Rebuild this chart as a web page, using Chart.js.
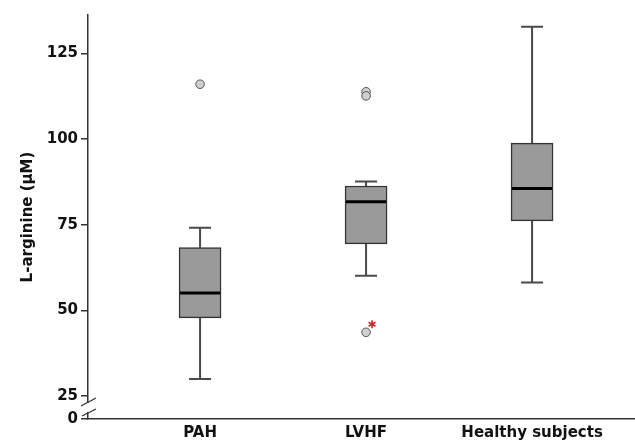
<!DOCTYPE html>
<html>
<head>
<meta charset="utf-8">
<script src="https://cdn.jsdelivr.net/npm/chart.js@4.4.0/dist/chart.umd.min.js"></script>
<style>
html, body { margin: 0; padding: 0; background: #fff; overflow: hidden; }
canvas { display: block; }
</style>
</head>
<body>
<canvas id="chart" width="635" height="440"></canvas>
<script>
// box plot values (µM)
const groups = ["PAH", "LVHF", "Healthy subjects"];
const whiskerLow = [30.0, 60.1, 58.1];
const q1 = [47.8, 69.4, 76.1];
const median = [55.1, 81.7, 85.6];
const q3 = [68.3, 86.3, 98.8];
const whiskerHigh = [74.1, 87.6, 132.8];
const outliers = [[116.0], [113.8, 112.6, 43.6], []];
const flagged = [[], [43.6], []];   // red asterisk
const yTicks = [25, 50, 75, 100, 125];
const yMin = 18.3, yMax = 136.2;   // axis is broken below 25, bottom labelled 0

const font = { family: "DejaVu Sans", weight: "bold", size: 15 };
const ink = "#111";

// whiskers go under the boxes, medians and asterisk on top
const boxParts = {
    id: "boxParts",
    beforeDatasetsDraw(chart) {
        const { ctx, scales: { x, y } } = chart;
        ctx.save();
        ctx.strokeStyle = "#4a4a4a";
        ctx.lineWidth = 2;
        groups.forEach((g, i) => {
            const cx = x.getPixelForValue(i + 1);
            const hi = y.getPixelForValue(whiskerHigh[i]);
            const lo = y.getPixelForValue(whiskerLow[i]);
            ctx.beginPath();
            ctx.moveTo(cx, y.getPixelForValue(q3[i]));
            ctx.lineTo(cx, hi);
            ctx.moveTo(cx, y.getPixelForValue(q1[i]));
            ctx.lineTo(cx, lo);
            ctx.moveTo(cx - 11, hi);
            ctx.lineTo(cx + 11, hi);
            ctx.moveTo(cx - 11, lo);
            ctx.lineTo(cx + 11, lo);
            ctx.stroke();
        });
        ctx.restore();
    },
    afterDatasetsDraw(chart) {
        const { ctx, scales: { x, y } } = chart;
        ctx.save();
        groups.forEach((g, i) => {
            const cx = x.getPixelForValue(i + 1);
            const ym = y.getPixelForValue(median[i]);
            ctx.strokeStyle = "#000";
            ctx.lineWidth = 3;
            ctx.beginPath();
            ctx.moveTo(cx - 20, ym);
            ctx.lineTo(cx + 20, ym);
            ctx.stroke();

            flagged[i].forEach(v => {
                const ax = cx + 6, ay = y.getPixelForValue(v) - 8;
                ctx.strokeStyle = "#c8282a";
                ctx.lineWidth = 1.6;
                ctx.beginPath();
                for (let k = 0; k < 3; k++) {
                    const a = Math.PI / 2 + k * Math.PI / 3;
                    ctx.moveTo(ax - 4 * Math.cos(a), ay - 4 * Math.sin(a));
                    ctx.lineTo(ax + 4 * Math.cos(a), ay + 4 * Math.sin(a));
                }
                ctx.stroke();
            });
        });
        ctx.restore();
    },
    afterDraw(chart) {
        // axis break marks between 25 and 0
        const { ctx, chartArea } = chart;
        const bx = chartArea.left, by = chartArea.bottom;
        ctx.save();
        ctx.fillStyle = "#fff";
        ctx.fillRect(bx - 2, by - 16, 4, 9);
        ctx.strokeStyle = "#333";
        ctx.lineWidth = 1.3;
        ctx.beginPath();
        ctx.moveTo(bx - 7, by - 13);
        ctx.lineTo(bx + 8, by - 21);
        ctx.moveTo(bx - 6, by - 3);
        ctx.lineTo(bx + 8, by - 10);
        ctx.stroke();
        ctx.restore();
    }
};

new Chart(document.getElementById("chart"), {
    type: "bar",
    data: {
        datasets: [{
            type: "bar",
            data: groups.map((g, i) => ({ x: i + 1, y: [q1[i], q3[i]] })),
            backgroundColor: "#9a9a9a",
            borderColor: "#333",
            borderWidth: 1.5,
            borderSkipped: false,
            barThickness: 42
        }, {
            type: "scatter",
            data: outliers.flatMap((vals, i) => vals.map(v => ({ x: i + 1, y: v }))),
            pointRadius: 4.3,
            backgroundColor: "#cfcfcf",
            borderColor: "#555",
            borderWidth: 1
        }]
    },
    options: {
        responsive: false,
        animation: false,
        layout: { autoPadding: false, padding: { left: 10, top: 15, right: 0, bottom: 0 } },
        plugins: { legend: { display: false }, tooltip: { enabled: false } },
        scales: {
            x: {
                type: "linear",
                offset: false,
                min: 0.325,
                max: 3.62,
                afterBuildTicks: s => { s.ticks = groups.map((g, i) => ({ value: i + 1 })); },
                ticks: {
                    callback: v => groups[Math.round(v) - 1],
                    autoSkip: false,
                    maxRotation: 0,
                    font: font,
                    color: ink,
                    padding: 5
                },
                grid: { display: false, drawTicks: false, offset: false },
                border: { color: "#333", width: 1.5 },
                afterFit: s => { s.height = 21; }
            },
            y: {
                type: "linear",
                min: yMin,
                max: yMax,
                afterBuildTicks: s => { s.ticks = [yMin].concat(yTicks).map(v => ({ value: v })); },
                ticks: {
                    callback: v => v === yMin ? "0" : String(v),
                    font: font,
                    color: ink,
                    padding: 3
                },
                grid: { drawOnChartArea: false, drawTicks: true, tickLength: 7, color: "#333", lineWidth: 1.5 },
                border: { color: "#333", width: 1.5 },
                title: {
                    display: true,
                    text: "L-arginine (µM)",
                    font: font,
                    color: ink,
                    padding: { top: 9, bottom: 0 }
                },
                afterFit: s => { s.width = 78; }
            }
        }
    },
    plugins: [boxParts]
});
</script>
</body>
</html>
